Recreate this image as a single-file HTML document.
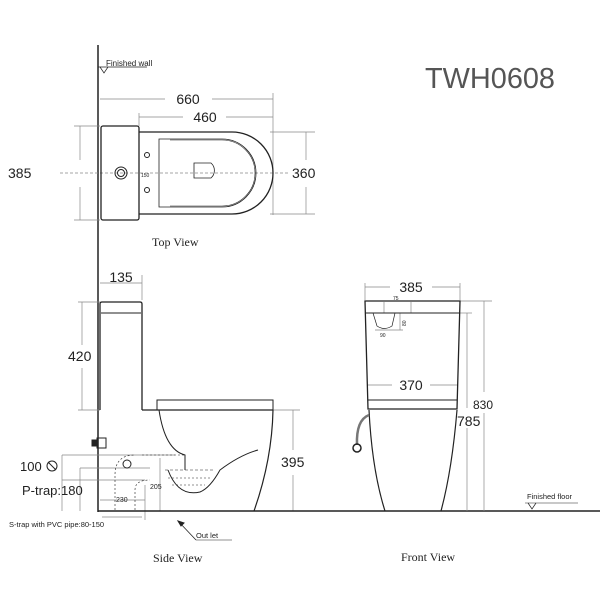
<!DOCTYPE html>
<html><head><meta charset="utf-8"><style>body{margin:0;background:#fff}svg{display:block}</style></head><body>
<svg width="600" height="600" viewBox="0 0 600 600" xmlns="http://www.w3.org/2000/svg" font-family="Liberation Sans, sans-serif">
<rect width="600" height="600" fill="#fff"/>
<g stroke="#222" fill="none" stroke-width="1">
<line x1="98" y1="45" x2="98" y2="512" stroke-width="1.5"/>
<line x1="98" y1="67" x2="147" y2="67" stroke-width="0.7"/>
<path d="M100 67 L104 73 L108 67" stroke-width="0.7"/>
<g stroke="#888" stroke-width="0.7">
<line x1="100" y1="99" x2="165" y2="99"/><line x1="212" y1="99" x2="273" y2="99"/>
<line x1="139" y1="117" x2="183" y2="117"/><line x1="226" y1="117" x2="273" y2="117"/>
<line x1="273" y1="93" x2="273" y2="215"/><line x1="139" y1="113" x2="139" y2="126"/>
<line x1="74" y1="126" x2="100" y2="126"/><line x1="74" y1="220" x2="100" y2="220"/>
<line x1="80" y1="126" x2="80" y2="160"/><line x1="80" y1="187" x2="80" y2="220"/>
<line x1="270" y1="132" x2="315" y2="132"/><line x1="270" y1="214" x2="315" y2="214"/>
<line x1="306" y1="132" x2="306" y2="160"/><line x1="306" y1="187" x2="306" y2="214"/>
<line x1="60" y1="173" x2="288" y2="173" stroke-dasharray="3,2"/>
</g>
<rect x="101" y="126" width="38" height="94" rx="2" stroke-width="1.3"/>
<path d="M139 132 H232 A41 41 0 0 1 232 214 H139" stroke-width="1.3"/>
<path d="M159 139 H222 A34 34 0 0 1 222 207 H159 Z" stroke-width="0.8"/>
<path d="M170 140 H222 A33 33 0 0 1 222 206 H170" stroke-width="0.6"/>
<path d="M194 163 H211 A10 10 0 0 1 211 178 H194 Z" stroke-width="0.8"/>
<circle cx="121" cy="173" r="6"/><circle cx="121" cy="173" r="3.5"/>
<circle cx="147" cy="155" r="2.5"/><circle cx="147" cy="190" r="2.5"/>
<g stroke="#888" stroke-width="0.7">
<line x1="100" y1="283" x2="142" y2="283"/><line x1="142" y1="275" x2="142" y2="300"/>
<line x1="78" y1="302" x2="100" y2="302"/><line x1="78" y1="410" x2="100" y2="410"/>
<line x1="82" y1="302" x2="82" y2="345"/><line x1="82" y1="368" x2="82" y2="410"/>
<line x1="273" y1="410" x2="300" y2="410"/><line x1="293" y1="410" x2="293" y2="450"/><line x1="293" y1="475" x2="293" y2="511"/>
<line x1="62" y1="455" x2="175" y2="455"/><line x1="80" y1="468" x2="150" y2="468"/><line x1="62" y1="480" x2="145" y2="480"/>
<line x1="62" y1="455" x2="62" y2="511"/><line x1="80" y1="468" x2="80" y2="511"/>
<line x1="100" y1="500" x2="145" y2="500"/><line x1="145" y1="485" x2="145" y2="520"/>
<line x1="160" y1="458" x2="160" y2="511"/>
<line x1="102" y1="517" x2="142" y2="517"/>
</g>
<path d="M100 410 V304 Q100 302 102 302 H140 Q142 302 142 304 V410" stroke-width="1.3"/>
<line x1="101" y1="313" x2="141" y2="313"/>
<line x1="142" y1="410" x2="273" y2="410" stroke-width="1.3"/>
<rect x="157" y="400" width="116" height="10"/>
<path d="M273 410 Q272 460 254 511" stroke-width="1.2"/>
<path d="M159 410 Q165 450 185 455 L185 470"/>
<path d="M168 470 Q178 497 200 492 Q210 488 220 470 Q240 455 258 450"/>
<path d="M165 470 H215" stroke-dasharray="3,2" stroke-width="0.6"/>
<path d="M168 478 H210 M172 485 H205" stroke-dasharray="2,2" stroke-width="0.5"/>
<g stroke-dasharray="2,2" stroke-width="0.6">
<path d="M115 510 V475 Q115 455 135 455"/><path d="M135 510 V490 Q135 480 150 480"/>
<path d="M142 455 H185"/>
</g>
<circle cx="127" cy="464" r="4"/>
<rect x="92" y="440" width="5" height="6" fill="#222"/>
<rect x="97" y="438" width="9" height="10"/>
<line x1="98" y1="511" x2="600" y2="511" stroke-width="1.5"/>
<line x1="178" y1="521" x2="196" y2="540" stroke-width="0.8"/>
<path d="M178 521 L184 523 L181 526 Z" fill="#222"/>
<line x1="196" y1="540" x2="232" y2="540" stroke-width="0.6"/>
<g stroke="#888" stroke-width="0.7">
<line x1="365" y1="287" x2="390" y2="287"/><line x1="432" y1="287" x2="460" y2="287"/>
<line x1="365" y1="283" x2="365" y2="300"/><line x1="460" y1="283" x2="460" y2="300"/>
<line x1="367" y1="385" x2="392" y2="385"/><line x1="430" y1="385" x2="458" y2="385"/>
<line x1="460" y1="301" x2="492" y2="301"/><line x1="457" y1="313" x2="472" y2="313"/>
<line x1="484" y1="301" x2="484" y2="392"/><line x1="484" y1="413" x2="484" y2="511"/>
<line x1="467" y1="313" x2="467" y2="408"/><line x1="467" y1="428" x2="467" y2="511"/>
<line x1="384" y1="302" x2="384" y2="313"/><line x1="411" y1="302" x2="411" y2="313"/>
<line x1="375" y1="330" x2="403" y2="330"/><line x1="400" y1="313" x2="400" y2="330"/>
</g>
<path d="M365 301 H460 L457 409 H368 Z" stroke-width="1.3"/>
<line x1="366" y1="313" x2="459" y2="313"/>
<line x1="368" y1="400" x2="457" y2="400"/>
<path d="M373 313 L377 326 Q384 331 392 326 L395 313" stroke-width="0.7"/>
<path d="M369 410 Q372 470 385 511 M457 410 Q452 470 441 511" stroke-width="1.2"/>
<path d="M369 415 Q356 420 357 445" stroke-width="2.5" stroke="#777"/>
<circle cx="357" cy="448" r="4" stroke-width="1.5"/>
<line x1="525" y1="503" x2="578" y2="503" stroke-width="0.6"/>
<path d="M528 503 L532 509 L536 503" stroke-width="0.7"/>
</g>
<g fill="#222">
<text x="106" y="66" font-size="8">Finished wall</text>
<text x="188" y="104" font-size="14" text-anchor="middle">660</text>
<text x="205" y="122" font-size="14" text-anchor="middle">460</text>
<text x="8" y="178" font-size="14">385</text>
<text x="292" y="178" font-size="14">360</text>
<text x="141" y="177" font-size="5">150</text>
<text x="152" y="246" font-size="12" font-family="Liberation Serif, serif">Top View</text>
<text x="425" y="88" font-size="29" fill="#555" textLength="130" lengthAdjust="spacingAndGlyphs">TWH0608</text>
<text x="121" y="282" font-size="14" text-anchor="middle">135</text>
<text x="68" y="361" font-size="14">420</text>
<text x="281" y="467" font-size="14">395</text>
<text x="20" y="471" font-size="13">100</text>
<circle cx="52" cy="466" r="5" fill="none" stroke="#222"/>
<line x1="48" y1="462" x2="56" y2="470" stroke="#222"/>
<text x="22" y="495" font-size="13">P-trap:180</text>
<text x="150" y="489" font-size="7">205</text>
<text x="116" y="502" font-size="7">230</text>
<text x="9" y="527" font-size="7.5">S-trap with PVC pipe:80-150</text>
<text x="196" y="538" font-size="7.5">Out let</text>
<text x="153" y="562" font-size="12" font-family="Liberation Serif, serif">Side View</text>
<text x="411" y="292" font-size="14" text-anchor="middle">385</text>
<text x="393" y="300" font-size="5">75</text>
<text x="380" y="337" font-size="5">90</text>
<text x="406" y="326" font-size="5" transform="rotate(-90 406 326)">80</text>
<text x="411" y="390" font-size="14" text-anchor="middle">370</text>
<text x="473" y="409" font-size="12">830</text>
<text x="457" y="426" font-size="14">785</text>
<text x="527" y="499" font-size="7.5">Finished floor</text>
<text x="401" y="561" font-size="12" font-family="Liberation Serif, serif">Front View</text>
</g>
</svg>
</body></html>
